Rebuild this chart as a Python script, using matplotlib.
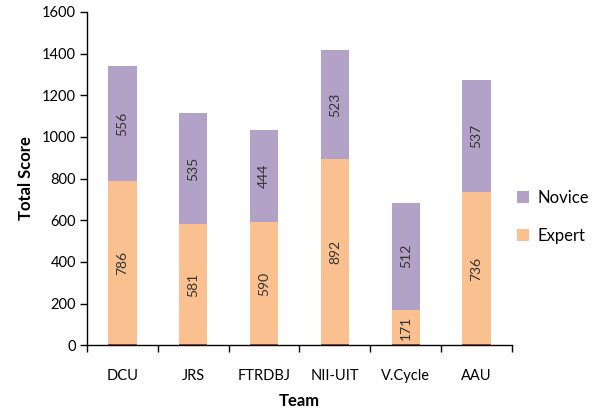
import numpy as np
import matplotlib
matplotlib.use("Agg")
import matplotlib.pyplot as plt

plt.rcParams['font.family'] = ['Lato', 'DejaVu Sans']

# Scores per team
teams = ['DCU', 'JRS', 'FTRDBJ', 'NII-UIT', 'V.Cycle', 'AAU']
expert = [786, 581, 590, 892, 171, 736]
novice = [556, 535, 444, 523, 512, 537]

expert_color = '#FAC090'
novice_color = '#B3A2C7'

fig = plt.figure(figsize=(5.96, 4.09), dpi=100)
ax = fig.add_axes([0.146, 0.156, 0.713, 0.815])

x = np.arange(len(teams))
b1 = ax.bar(x, expert, width=0.4, color=expert_color, label='Expert')
b2 = ax.bar(x, novice, width=0.4, bottom=expert, color=novice_color, label='Novice')

# thin dark line at the bottom of each bar
ax.bar(x, [0] * len(teams), width=0.4, bottom=0, edgecolor='#8B3A2A', linewidth=1.2)

for bars, vals, bottoms in [(b1, expert, [0] * len(teams)), (b2, novice, expert)]:
    for rect, v, b in zip(bars, vals, bottoms):
        ax.text(rect.get_x() + rect.get_width() / 2, b + v / 2, str(v),
                rotation=90, ha='center', va='center', fontsize=10, color='#333333')

ax.set_xlim(-0.5, len(teams) - 0.5)
ax.set_ylim(0, 1600)
ax.set_yticks(range(0, 1601, 200))
ax.set_xticks(x)
ax.set_xticklabels(teams)
ax.set_xticks(np.arange(-0.5, len(teams), 1), minor=True)
ax.tick_params(axis='x', which='major', length=0, pad=17, labelsize=10.5)
ax.tick_params(axis='x', which='minor', length=5, width=1, direction='out')
ax.tick_params(axis='y', length=5, width=1, labelsize=10.5, pad=3)

for s in ['top', 'right']:
    ax.spines[s].set_visible(False)
ax.spines['left'].set_linewidth(1)
ax.spines['bottom'].set_linewidth(1)

ax.set_xlabel('Team', fontsize=12, fontweight='bold', labelpad=7)
ax.set_ylabel('Total Score', fontsize=12, fontweight='bold', labelpad=6)

leg = fig.legend([b2, b1], ['Novice', 'Expert'], loc='center left',
                 bbox_to_anchor=(0.868, 0.47), frameon=False, fontsize=12,
                 handlelength=0.7, handleheight=0.7, labelspacing=1.3,
                 handletextpad=0.5, borderpad=0, borderaxespad=0)

fig.savefig('out.png', dpi=100)
